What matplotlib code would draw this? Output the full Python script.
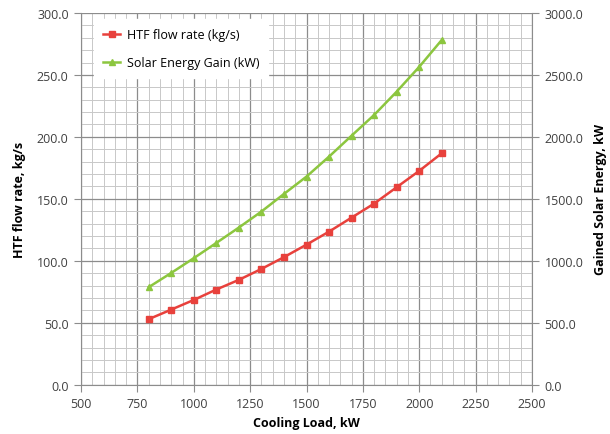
import matplotlib
matplotlib.use('Agg')
import matplotlib.pyplot as plt
from matplotlib.ticker import MultipleLocator, FormatStrFormatter

plt.rcParams['font.family'] = ['Open Sans', 'DejaVu Sans']

# data
cooling_load = [800, 900, 1000, 1100, 1200, 1300, 1400, 1500, 1600, 1700, 1800, 1900, 2000, 2100]
htf_flow = [53.0, 60.7, 68.5, 76.9, 84.7, 93.5, 103.0, 113.1, 123.6, 134.9, 146.2, 159.4, 172.6, 186.8]
solar_gain = [788, 903, 1022, 1145, 1269, 1398, 1540, 1680, 1841, 2010, 2177, 2365, 2565, 2782]

red = '#e8413c'
green = '#8cc63f'

fig = plt.figure(figsize=(6.1, 4.35), dpi=100)
ax = fig.add_axes([0.133, 0.113, 0.739, 0.855])
ax2 = ax.twinx()

l1, = ax.plot(cooling_load, htf_flow, color=red, marker='s', markersize=5, lw=1.8,
              label='HTF flow rate (kg/s)')
l2, = ax2.plot(cooling_load, solar_gain, color=green, marker='^', markersize=5, lw=1.8,
               label='Solar Energy Gain (kW)')

ax.set_xlim(500, 2500)
ax.set_ylim(0, 300)
ax2.set_ylim(0, 3000)
ax.xaxis.set_major_locator(MultipleLocator(250))
ax.xaxis.set_minor_locator(MultipleLocator(50))
ax.yaxis.set_major_locator(MultipleLocator(50))
ax.yaxis.set_minor_locator(MultipleLocator(10))
ax2.yaxis.set_major_locator(MultipleLocator(500))
ax.yaxis.set_major_formatter(FormatStrFormatter('%.1f'))
ax2.yaxis.set_major_formatter(FormatStrFormatter('%.1f'))

ax.grid(which='major', color='#8c8c8c', lw=0.9)
ax.grid(which='minor', color='#c8c8c8', lw=0.7)
ax.set_axisbelow(True)

for a in (ax, ax2):
    for s in a.spines.values():
        s.set_visible(False)
    a.tick_params(which='both', length=0, labelsize=9, colors='#404040', pad=4)
ax.tick_params(axis='y', which='major', length=5, color='#8c8c8c', direction='out')
ax.tick_params(axis='x', which='major', length=5, color='#8c8c8c', direction='out')
ax2.tick_params(axis='y', which='major', length=5, color='#8c8c8c', direction='out')
ax.spines['left'].set_visible(True)
ax.spines['left'].set_color('#8c8c8c')
ax.spines['bottom'].set_visible(True)
ax.spines['bottom'].set_color('#8c8c8c')
ax2.spines['right'].set_visible(True)
ax2.spines['right'].set_color('#8c8c8c')

ax.set_xlabel('Cooling Load, kW', fontsize=9, fontweight='bold', labelpad=4)
ax.set_ylabel('HTF flow rate, kg/s', fontsize=9, fontweight='bold', labelpad=8)
ax2.set_ylabel('Gained Solar Energy, kW', fontsize=9, fontweight='bold', labelpad=8)

leg = ax2.legend(handles=[l1, l2], loc='upper left', bbox_to_anchor=(0.015, 1.0),
                 fontsize=9, frameon=True, fancybox=False, edgecolor='white',
                 framealpha=1.0, labelspacing=1.2, handlelength=1.4, handletextpad=0.5,
                 borderpad=0.7)

fig.savefig('out.png', dpi=100)
